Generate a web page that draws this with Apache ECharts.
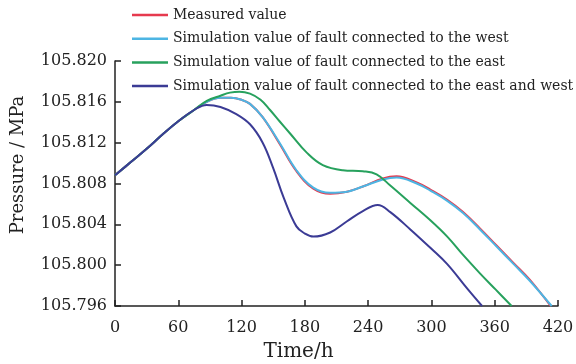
<!DOCTYPE html>
<html>
<head>
<meta charset="utf-8">
<title>Pressure vs Time</title>
<script src="https://cdn.jsdelivr.net/npm/echarts@6/dist/echarts.min.js"></script>
<style>
  html, body { margin: 0; padding: 0; background: #fff; }
  #chart { width: 576px; height: 364px; }
</style>
</head>
<body>
<div id="chart"></div>
<script>
// legend names
var seriesNames = [
  'Measured value',
  'Simulation value of fault connected to the west',
  'Simulation value of fault connected to the east',
  'Simulation value of fault connected to the east and west'
]

// time (h) and pressure (MPa)
var measuredTime = [0, 15, 30, 45, 60, 75, 87, 100, 110, 120, 128, 140, 156, 172, 188, 204, 220, 235, 254, 267, 286, 299, 315, 330, 346, 362, 378, 393, 413]
var measuredValue = [105.8088, 105.8101, 105.8114, 105.8128, 105.8141, 105.8152, 105.8160, 105.8164, 105.8164, 105.8162, 105.8158, 105.8145, 105.8119, 105.8092, 105.8075, 105.8070, 105.8072, 105.8077, 105.8085, 105.8087, 105.8081, 105.8074, 105.8064, 105.8052, 105.8036, 105.8019, 105.8002, 105.7986, 105.7960]

var westTime = [0, 15, 30, 45, 60, 75, 87, 100, 110, 120, 128, 140, 156, 172, 188, 204, 220, 235, 254, 267, 286, 299, 315, 330, 346, 362, 378, 393, 414]
var westValue = [105.8088, 105.8101, 105.8114, 105.8128, 105.8141, 105.8152, 105.8160, 105.8164, 105.8164, 105.8162, 105.8158, 105.8145, 105.8120, 105.8093, 105.8076, 105.8071, 105.8072, 105.8077, 105.8084, 105.8086, 105.8080, 105.8073, 105.8063, 105.8051, 105.8035, 105.8018, 105.8001, 105.7985, 105.7960]

var eastTime = [0, 15, 30, 45, 60, 75, 87, 100, 109, 118, 128, 138, 147, 156, 166, 182, 197, 216, 235, 248, 261, 280, 299, 315, 330, 346, 361, 376]
var eastValue = [105.8088, 105.8101, 105.8114, 105.8128, 105.8141, 105.8152, 105.8161, 105.8166, 105.8169, 105.8170, 105.8168, 105.8162, 105.8152, 105.8141, 105.8129, 105.8110, 105.8098, 105.8093, 105.8092, 105.8089, 105.8078, 105.8061, 105.8044, 105.8028, 105.8010, 105.7992, 105.7976, 105.7960]

var bothTime = [0, 15, 30, 45, 60, 75, 87, 100, 115, 128, 140, 150, 160, 172, 180, 188, 204, 220, 235, 249, 261, 280, 300, 315, 334, 348]
var bothValue = [105.8088, 105.8101, 105.8114, 105.8128, 105.8141, 105.8152, 105.8157, 105.8155, 105.8148, 105.8138, 105.8120, 105.8095, 105.8066, 105.8038, 105.8031, 105.8028, 105.8032, 105.8043, 105.8053, 105.8059, 105.8052, 105.8035, 105.8016, 105.8001, 105.7977, 105.7960]

var xTicks = [0, 60, 120, 180, 240, 300, 360, 420]
var yTicks = [105.796, 105.800, 105.804, 105.808, 105.812, 105.816, 105.820]

var colors = ['#e63a4e', '#4db5e3', '#27a15d', '#3b3b95']

function pairs(t, v) {
  return t.map(function (x, i) { return [x, v[i]] })
}

var font = 'DejaVu Serif'
var chart = echarts.init(document.getElementById('chart'))

var lines = [
  pairs(measuredTime, measuredValue),
  pairs(westTime, westValue),
  pairs(eastTime, eastValue),
  pairs(bothTime, bothValue)
]

var option = {
  animation: false,
  color: colors,
  textStyle: { fontFamily: font, color: '#222' },
  legend: {
    orient: 'vertical',
    left: 127,
    top: 3,
    icon: 'rect',
    itemWidth: 36,
    itemHeight: 2.5,
    itemGap: 9.7,
    data: seriesNames,
    textStyle: { fontFamily: font, fontSize: 14, color: '#222' }
  },
  grid: { left: 115, right: 18, top: 61, bottom: 58, outerBoundsMode: 'none' },
  xAxis: {
    type: 'value',
    min: xTicks[0],
    max: xTicks[xTicks.length - 1],
    interval: 60,
    name: 'Time/h',
    nameLocation: 'middle',
    nameGap: 36,
    nameTextStyle: { fontFamily: font, fontSize: 20, color: '#222', padding: [0, 76, 0, 0] },
    axisLine: { lineStyle: { color: '#222', width: 1.5 } },
    axisTick: { inside: true, length: 6, lineStyle: { color: '#222', width: 1.5 } },
    axisLabel: { fontFamily: font, fontSize: 16, color: '#222', margin: 14 },
    splitLine: { show: false }
  },
  yAxis: {
    type: 'value',
    min: yTicks[0],
    max: yTicks[yTicks.length - 1],
    interval: 0.004,
    name: 'Pressure / MPa',
    nameLocation: 'middle',
    nameRotate: 90,
    nameGap: 88,
    nameTextStyle: { fontFamily: font, fontSize: 18, color: '#222', padding: [0, 0, 0, 37] },
    axisLine: { show: true, lineStyle: { color: '#222', width: 1.5 } },
    axisTick: { show: true, inside: true, length: 6, lineStyle: { color: '#222', width: 1.5 } },
    axisLabel: {
      fontFamily: font, fontSize: 16, color: '#222', margin: 8,
      formatter: function (v) { return v.toFixed(3) }
    },
    splitLine: { show: false }
  },
  series: lines.map(function (d, i) {
    return {
      name: seriesNames[i],
      type: 'line',
      data: d,
      smooth: 0.4,
      symbol: 'none',
      lineStyle: { width: 2, color: colors[i] },
      z: i === 0 ? 1 : 2 + i
    }
  })
}

chart.setOption(option)
</script>
</body>
</html>
